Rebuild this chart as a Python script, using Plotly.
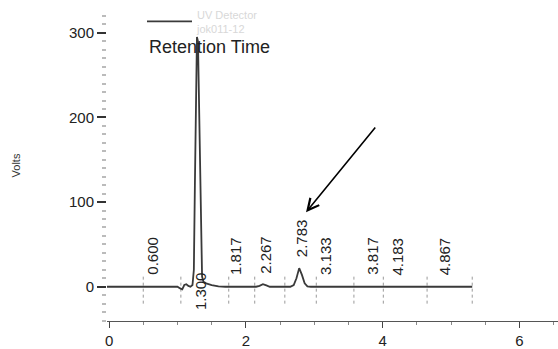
import plotly.graph_objects as go

# Chromatogram trace (time in min, signal in Volts)
time_min = [-0.03, 0.3, 0.6, 0.9, 1.0, 1.04, 1.07, 1.10, 1.13, 1.16, 1.19, 1.22,
            1.24, 1.255, 1.27, 1.285, 1.30, 1.315, 1.33, 1.345, 1.36, 1.38,
            1.42, 1.5, 1.6, 1.7, 2.15, 2.2, 2.25, 2.3, 2.35, 2.65, 2.70, 2.74,
            2.78, 2.82, 2.86, 2.9, 2.95, 3.5, 4.5, 5.31]
signal = [0, 0, 0, 0, 0, -2, -3, 2, 3, 1, 0, 2,
          20, 120, 250, 295, 290, 220, 120, 40, 12, 6,
          4, 2, 0.5, 0, 0, 1, 3, 1.5, 0, 0, 2, 10,
          22, 14, 4, 0.5, 0, 0, 0, 0]

# Peak retention time labels and the height their text starts at
peak_labels = ["0.600", "1.300", "1.817", "2.267", "2.783", "3.133", "3.817", "4.183", "4.867"]
peak_times = [0.600, 1.300, 1.817, 2.267, 2.783, 3.133, 3.817, 4.183, 4.867]
label_base = [12, -30, 12, 13, 33, 12, 12, 11, 11]

# Integration event markers
event_times = [0.50, 1.05, 1.75, 2.13, 2.57, 3.03, 3.58, 4.01, 4.65, 5.31]
event_low, event_high = -20, 12

x_ticks = [0, 2, 4, 6]
y_ticks = [0, 100, 200, 300]

FONT = "Liberation Sans, Arial, sans-serif"

fig = go.Figure()

# event marker lines
ev_x, ev_y = [], []
for t in event_times:
    ev_x += [t, t, None]
    ev_y += [event_low, event_high, None]
fig.add_trace(go.Scatter(x=ev_x, y=ev_y, mode="lines", showlegend=False,
                         line=dict(color="#9a9a9a", width=1, dash="dot"),
                         hoverinfo="skip"))

fig.add_trace(go.Scatter(x=time_min, y=signal, mode="lines",
                         name="UV Detector<br>jok011-12",
                         line=dict(color="#3a3a3a", width=1.8)))

for lab, t, b in zip(peak_labels, peak_times, label_base):
    fig.add_annotation(x=t, y=b, text=lab, textangle=-90, showarrow=False,
                       xanchor="center", yanchor="bottom", xshift=2,
                       font=dict(family=FONT, size=15, color="#222"))

# arrow pointing at the 2.783 peak
fig.add_annotation(x=2.88, y=88, ax=3.91, ay=190, xref="x", yref="y",
                   axref="x", ayref="y", showarrow=True, arrowhead=5,
                   arrowsize=1.4, arrowwidth=1.6, arrowcolor="#000", text="")

fig.add_annotation(xref="paper", yref="paper", x=(147 - 107) / 451, y=1 - (48 - 10) / 318,
                   xanchor="left", yanchor="middle", text="Retention Time",
                   showarrow=False, font=dict(family=FONT, size=18, color="#222"))

fig.update_layout(
    width=558, height=349,
    margin=dict(l=107, r=0, t=10, b=21),
    paper_bgcolor="white", plot_bgcolor="white",
    font=dict(family=FONT, color="#222"),
    showlegend=True,
    legend=dict(x=0.0776, y=1.03, xanchor="left", yanchor="top",
                bgcolor="rgba(0,0,0,0)", itemwidth=45, tracegroupgap=0,
                font=dict(family=FONT, size=11, color="#d8d8d8")),
    xaxis=dict(range=[-0.03, 6.564], tickvals=x_ticks, ticks="outside",
               ticklen=6, tickwidth=1.2, tickcolor="#444",
               showline=True, linecolor="#555", linewidth=1.3,
               showgrid=False, zeroline=False,
               minor=dict(dtick=0.5, ticks="outside", ticklen=3, tickcolor="#888"),
               tickfont=dict(size=15, color="#222")),
    yaxis=dict(range=[-40.5, 327], tickvals=y_ticks, ticks="outside",
               ticklen=9, tickwidth=1.5, tickcolor="#333",
               showline=False, showgrid=False, zeroline=False,
               minor=dict(dtick=10, ticks="outside", ticklen=4, tickcolor="#bbb"),
               tickfont=dict(size=15, color="#222"),
               title=dict(text="Volts", font=dict(size=11, color="#333"), standoff=46)),
)

fig.write_html("out.html")
